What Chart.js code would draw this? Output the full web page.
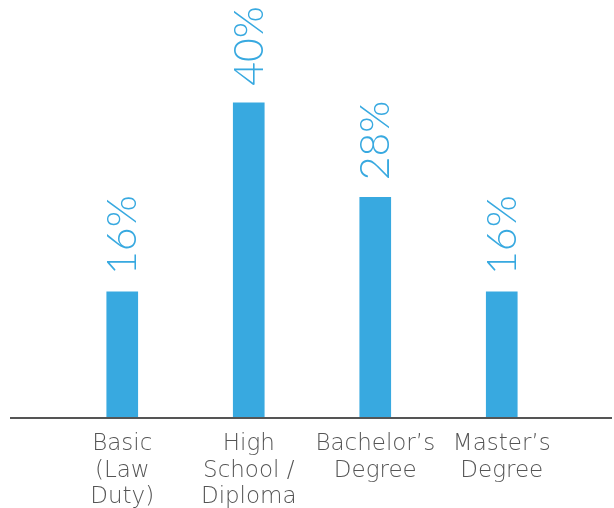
<!DOCTYPE html>
<html>
<head>
<meta charset="utf-8">
<script src="https://cdn.jsdelivr.net/npm/chart.js@4.4.0/dist/chart.umd.min.js"></script>
<style>
  html, body { margin: 0; padding: 0; background: #ffffff; }
  #wrap { width: 614px; height: 508px; position: relative; }
</style>
</head>
<body>
<div id="wrap"><canvas id="c" width="614" height="508"></canvas></div>
<script>
const categories = [
  ["Basic", "(Law", "Duty)"],
  ["High", "School /", "Diploma"],
  ["Bachelor\u2019s", "Degree"],
  ["Master\u2019s", "Degree"]
];
const values = [16, 40, 28, 16];
const valueLabels = ["16%", "40%", "28%", "16%"];

const BLUE = "#38a9e0";
const GREY = "#555555";

const baselinePlugin = {
  id: "baseline",
  afterDatasetsDraw(chart) {
    const ctx = chart.ctx;
    const y = chart.scales.y.getPixelForValue(0);
    ctx.save();
    ctx.strokeStyle = GREY;
    ctx.lineWidth = 2;
    ctx.beginPath();
    ctx.moveTo(10, y);
    ctx.lineTo(612, y);
    ctx.stroke();
    ctx.restore();
  }
};

const valueLabelPlugin = {
  id: "valueLabels",
  afterDatasetsDraw(chart) {
    const ctx = chart.ctx;
    const meta = chart.getDatasetMeta(0);
    ctx.save();
    ctx.fillStyle = BLUE;
    ctx.font = "300 41px Lato, 'Open Sans', sans-serif";
    ctx.textAlign = "left";
    ctx.textBaseline = "middle";
    meta.data.forEach((bar, i) => {
      ctx.save();
      ctx.translate(bar.x + 1, bar.y - 17);
      ctx.rotate(-Math.PI / 2);
      ctx.fillText(valueLabels[i], 0, 0);
      ctx.restore();
    });
    ctx.restore();
  }
};

new Chart(document.getElementById("c"), {
  type: "bar",
  data: {
    labels: categories,
    datasets: [{
      data: values,
      backgroundColor: BLUE,
      borderWidth: 0,
      barThickness: 31
    }]
  },
  options: {
    responsive: false,
    animation: false,
    layout: { padding: { left: 59, right: 49, top: 24, bottom: 0 } },
    plugins: { legend: { display: false }, tooltip: { enabled: false } },
    scales: {
      y: { display: false, min: 0, max: 50 },
      x: {
        grid: { display: false, drawTicks: false },
        border: { display: false },
        ticks: {
          color: GREY,
          font: { family: "'DejaVu Sans', sans-serif", size: 23, weight: 200, lineHeight: 1.15 },
          padding: 13,
          maxRotation: 0,
          autoSkip: false
        },
        afterFit(scale) { scale.height = 90; }
      }
    }
  },
  plugins: [baselinePlugin, valueLabelPlugin]
});
</script>
</body>
</html>
